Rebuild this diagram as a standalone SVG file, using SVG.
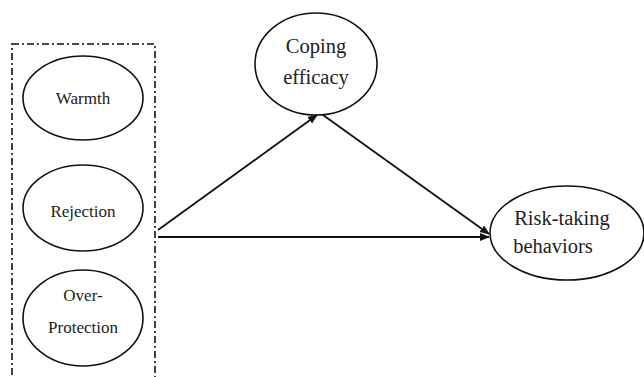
<svg xmlns="http://www.w3.org/2000/svg" width="644" height="377" viewBox="0 0 644 377">
<style>
.node ellipse{fill:#fff;stroke:#111;stroke-width:1.6}
.t{font-family:"Liberation Serif","Times New Roman",serif;fill:#222;text-anchor:middle}
.s{font-size:17px}
.b{font-size:20.5px}
.edge{stroke:#111;stroke-width:1.8;fill:none}
.box{fill:none;stroke:#111;stroke-width:1.6;stroke-dasharray:7 3 2 3}
</style>
<defs>
<marker id="ah" viewBox="0 0 10 10" refX="9" refY="5" markerWidth="10" markerHeight="10" markerUnits="userSpaceOnUse" orient="auto">
<path d="M0,1 L10,5 L0,9 Z" fill="#111"/>
</marker>
</defs>
<rect rx="0" class="box" x="12" y="44" width="143" height="345"/>
<g id="warmth" class="node">
<ellipse cx="83" cy="98" rx="60" ry="42"/>
<text class="t s" x="83" y="104">Warmth</text>
</g>
<g id="rejection" class="node">
<ellipse cx="83" cy="208" rx="60" ry="43"/>
<text class="t s" x="83" y="217">Rejection</text>
</g>
<g id="overprotection" class="node">
<ellipse cx="83" cy="318" rx="60" ry="48"/>
<text class="t s" x="83" y="301">Over-</text>
<text class="t s" x="83" y="333">Protection</text>
</g>
<g id="coping" class="node">
<ellipse cx="316" cy="64" rx="61" ry="51"/>
<text class="t b" x="316" y="53">Coping</text>
<text class="t b" x="316" y="84">efficacy</text>
</g>
<g id="risk" class="node">
<ellipse cx="567" cy="233" rx="77" ry="47"/>
<text class="t b" x="562" y="225">Risk-taking</text>
<text class="t b" x="553" y="253">behaviors</text>
</g>
<g id="connectors">
<line class="edge" x1="158" y1="230" x2="317" y2="115" marker-end="url(#ah)"/>
<line class="edge" x1="158" y1="237" x2="489" y2="237" marker-end="url(#ah)"/>
<line class="edge" x1="323" y1="115" x2="489" y2="234" marker-end="url(#ah)"/>
</g>
</svg>
